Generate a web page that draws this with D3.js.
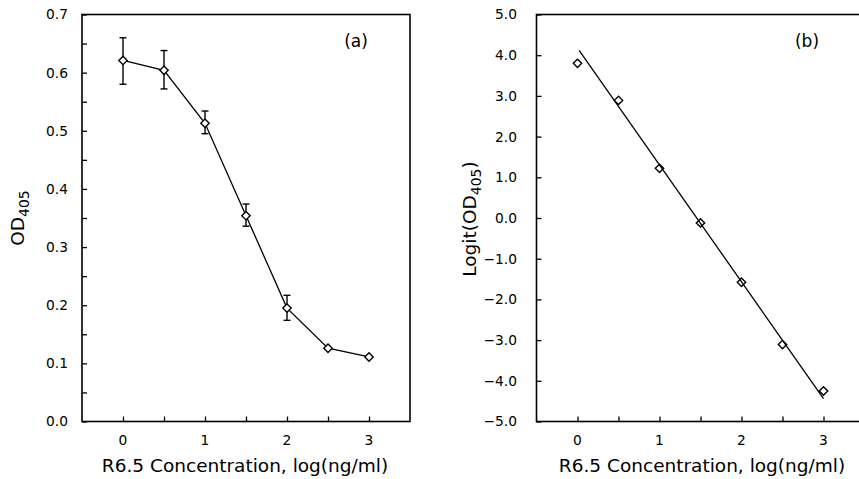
<!DOCTYPE html>
<html><head><meta charset="utf-8">
<script src="https://cdn.jsdelivr.net/npm/d3@7/dist/d3.min.js"></script>
<style>body{margin:0;background:#fff}svg{display:block;font-family:"DejaVu Sans",sans-serif}</style>
</head><body><svg id="c" width="859" height="479"></svg>
<script>
const concA = [0, 0.5, 1, 1.5, 2, 2.5, 3];
const odMean = [0.621, 0.604, 0.513, 0.354, 0.195, 0.126, 0.111];
const odHigh = [0.660, 0.638, 0.534, 0.374, 0.217, 0.126, 0.111];
const odLow  = [0.580, 0.572, 0.495, 0.336, 0.174, 0.126, 0.111];
const concB = [0, 0.5, 1, 1.5, 2, 2.5, 3];
const logitVals = [3.80, 2.89, 1.22, -0.12, -1.58, -3.11, -4.25];
const fitX = [0.02, 3.0];
const fitY = [4.12, -4.44];
const xTickLabels = [0, 1, 2, 3];
const yTicksA = [0.0, 0.1, 0.2, 0.3, 0.4, 0.5, 0.6, 0.7];
const yTicksB = [-5, -4, -3, -2, -1, 0, 1, 2, 3, 4, 5];

const svg = d3.select("#c");
const plotTop = 14.5, plotBottom = 421.5;
const tickFont = 13.8, titleFont = 18.5;

function frame(g, x0, x1) {
  g.append("rect").attr("x", x0).attr("y", plotTop).attr("width", x1 - x0).attr("height", plotBottom - plotTop)
    .attr("fill", "none").attr("stroke", "#000").attr("stroke-width", 1.6);
}
function diamond(g, cx, cy, fill) {
  const r = 4.2;
  g.append("path").attr("d", `M${cx},${cy - r}L${cx + r},${cy}L${cx},${cy + r}L${cx - r},${cy}Z`)
    .attr("fill", fill).attr("stroke", "#000").attr("stroke-width", 1.4);
}

// ---------- Panel A ----------
{
  const x = d3.scaleLinear().domain([-0.5, 3.5]).range([82, 410]);
  const y = d3.scaleLinear().domain([0, 0.7]).range([plotBottom, plotTop]);
  const g = svg.append("g");
  frame(g, 82, 410);
  g.append("g").attr("transform", `translate(0,${plotBottom})`)
    .call(d3.axisTop(x).tickValues(d3.range(0, 3.01, 0.5)).tickSize(5).tickFormat(""))
    .call(a => a.select(".domain").remove())
    .call(a => a.selectAll("line").attr("stroke-width", 1.3));
  g.selectAll(".xlab").data(xTickLabels).join("text").attr("class", "xlab")
    .attr("x", d => x(d)).attr("y", plotBottom + 23).attr("text-anchor", "middle").attr("font-size", tickFont).text(d => d);
  g.append("g").attr("transform", `translate(82,0)`)
    .call(d3.axisRight(y).tickValues(d3.range(0, 0.701, 0.05)).tickSize(5).tickFormat(""))
    .call(a => a.select(".domain").remove())
    .call(a => a.selectAll("line").attr("stroke-width", 1.3));
  g.selectAll(".ylab").data(yTicksA).join("text").attr("class", "ylab")
    .attr("x", 68).attr("y", d => y(d)).attr("dy", "0.36em").attr("text-anchor", "end")
    .attr("font-size", tickFont).text(d => d.toFixed(1));
  g.append("text").attr("x", 245).attr("y", 472).attr("text-anchor", "middle").attr("font-size", titleFont)
    .text("R6.5 Concentration, log(ng/ml)");
  const yt = g.append("text").attr("transform", `translate(24,218) rotate(-90)`).attr("text-anchor", "middle").attr("font-size", titleFont);
  yt.append("tspan").text("OD");
  yt.append("tspan").attr("font-size", 14).attr("dy", 5).text("405");
  g.append("text").attr("x", 356).attr("y", 47).attr("text-anchor", "middle").attr("font-size", 17).text("(a)");
  g.append("path").datum(concA.map((c, i) => [c, odMean[i]]))
    .attr("d", d3.line().x(d => x(d[0])).y(d => y(d[1])))
    .attr("fill", "none").attr("stroke", "#000").attr("stroke-width", 1.3);
  concA.forEach((c, i) => {
    if (odHigh[i] - odLow[i] < 0.005) return;
    const cx = x(c);
    g.append("line").attr("x1", cx).attr("x2", cx).attr("y1", y(odHigh[i])).attr("y2", y(odLow[i])).attr("stroke", "#000").attr("stroke-width", 1.4);
    [odHigh[i], odLow[i]].forEach(v => g.append("line").attr("x1", cx - 3.5).attr("x2", cx + 3.5).attr("y1", y(v)).attr("y2", y(v)).attr("stroke", "#000").attr("stroke-width", 1.4));
  });
  concA.forEach((c, i) => diamond(g, x(c), y(odMean[i]), "#fff"));
}

// ---------- Panel B ----------
{
  const x = d3.scaleLinear().domain([-0.5, 3.5]).range([536.5, 864.5]);
  const y = d3.scaleLinear().domain([-5, 5]).range([plotBottom, plotTop]);
  const g = svg.append("g");
  frame(g, 536.5, 904.5);
  g.append("g").attr("transform", `translate(0,${plotBottom})`)
    .call(d3.axisTop(x).tickValues(d3.range(0, 3.01, 0.5)).tickSize(5).tickFormat(""))
    .call(a => a.select(".domain").remove())
    .call(a => a.selectAll("line").attr("stroke-width", 1.3));
  g.selectAll(".xlab").data(xTickLabels).join("text").attr("class", "xlab")
    .attr("x", d => x(d)).attr("y", plotBottom + 23).attr("text-anchor", "middle").attr("font-size", tickFont).text(d => d);
  g.append("g").attr("transform", `translate(536.5,0)`)
    .call(d3.axisRight(y).tickValues(yTicksB).tickSize(5).tickFormat(""))
    .call(a => a.select(".domain").remove())
    .call(a => a.selectAll("line").attr("stroke-width", 1.3));
  g.selectAll(".ylab").data(yTicksB).join("text").attr("class", "ylab")
    .attr("x", 517).attr("y", d => y(d)).attr("dy", "0.36em").attr("text-anchor", "end")
    .attr("font-size", tickFont).text(d => (d < 0 ? "\u2212" + Math.abs(d).toFixed(1) : d.toFixed(1)));
  g.append("text").attr("x", 702).attr("y", 472).attr("text-anchor", "middle").attr("font-size", titleFont)
    .text("R6.5 Concentration, log(ng/ml)");
  const yt = g.append("text").attr("transform", `translate(476,219) rotate(-90)`).attr("text-anchor", "middle").attr("font-size", titleFont);
  yt.append("tspan").text("Logit(OD");
  yt.append("tspan").attr("font-size", 14).attr("dy", 5).text("405");
  yt.append("tspan").attr("dy", -5).text(")");
  g.append("text").attr("x", 807).attr("y", 47).attr("text-anchor", "middle").attr("font-size", 17).text("(b)");
  g.append("path").datum(fitX.map((v, i) => [v, fitY[i]]))
    .attr("d", d3.line().x(d => x(d[0])).y(d => y(d[1])))
    .attr("fill", "none").attr("stroke", "#000").attr("stroke-width", 1.3);
  concB.forEach((c, i) => diamond(g, x(c), y(logitVals[i]), "none"));
}
</script></body></html>
